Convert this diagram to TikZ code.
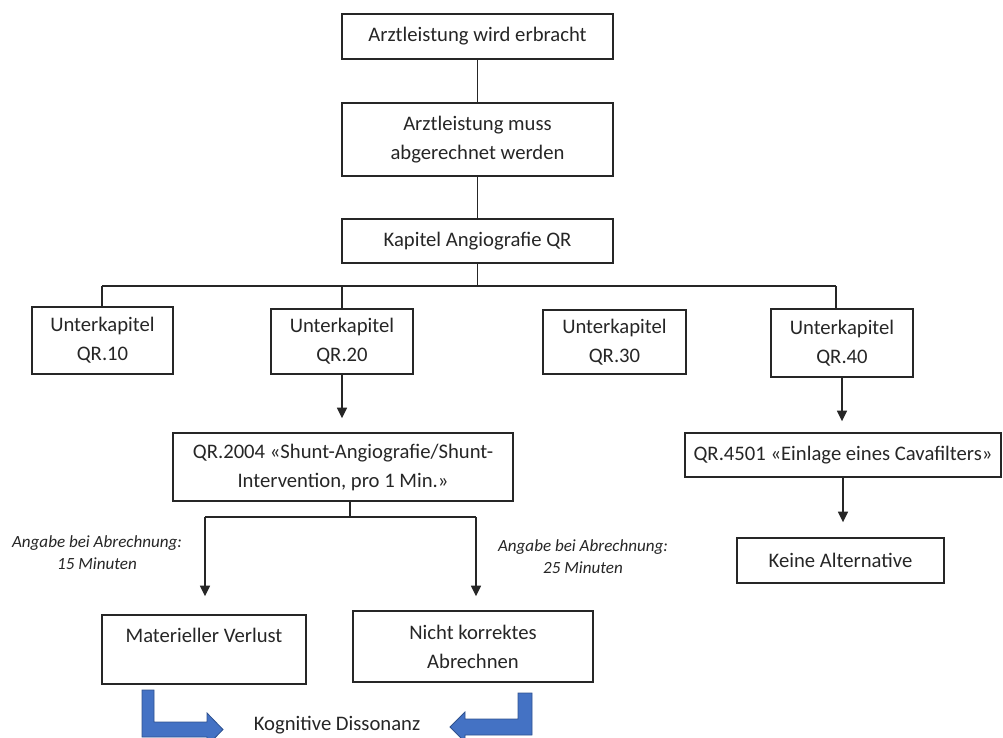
\documentclass[tikz,border=0pt]{standalone}
\usepackage{fontspec}
\setmainfont{Carlito}
\usetikzlibrary{arrows.meta}
\definecolor{ink}{HTML}{262626}
\definecolor{bluefill}{HTML}{4472C4}
\definecolor{blueline}{HTML}{2F528F}
\begin{document}
\begin{tikzpicture}[x=0.75pt,y=-0.75pt,
  bw/.style={minimum width=#1*0.75pt},
  bh/.style={minimum height=#1*0.75pt},
  box/.style={draw=ink, line width=1.05pt, rectangle, inner sep=0pt, align=center,
    font=\fontsize{15.5}{21.75}\selectfont, text=ink},
  lbl/.style={inner sep=0pt, align=center, text=ink, font=\itshape\fontsize{12.8}{16.5}\selectfont},
  txt/.style={inner sep=0pt, text=ink, font=\fontsize{15.5}{21.75}\selectfont},
  ln/.style={draw=ink, line width=1.05pt},
  arr/.style={ln, -{Triangle[length=8pt,width=7.5pt]}},
  blk/.style={fill=bluefill, draw=blueline, line width=0.6pt, line join=miter}]
\useasboundingbox (0,0) rectangle (1003,738);

\node[box,bw=271,bh=45] (b1) at (477.5,36.5) {Arztleistung wird erbracht};
\node[box,bw=271,bh=73] (b2) at (477.5,139.5) {Arztleistung muss\\abgerechnet werden};
\node[box,bw=271,bh=44] (b3) at (477.5,241) {Kapitel Angiografie QR};
\node[box,bw=141,bh=67] (q10) at (102.5,340.5) {Unterkapitel\\QR.10};
\node[box,bw=142,bh=65] (q20) at (342,341.5) {Unterkapitel\\QR.20};
\node[box,bw=143,bh=64] (q30) at (614.5,342) {Unterkapitel\\QR.30};
\node[box,bw=142,bh=68] (q40) at (842,343) {Unterkapitel\\QR.40};
\node[box,bw=340,bh=68] (q2004) at (343,467) {QR.2004 «Shunt-Angiografie/Shunt-\\Intervention, pro 1 Min.»};
\node[box,bw=316,bh=44] (q4501) at (843,455) {QR.4501 «Einlage eines Cavafilters»};
\node[box,bw=207,bh=45] (ka) at (840.5,560.5) {Keine Alternative};
\node[box,bw=204,bh=69] (mv) at (204,649.5) {Materieller Verlust\\\mbox{}};
\node[box,bw=240,bh=71] (nk) at (473,646.5) {Nicht korrektes\\Abrechnen};
\node[lbl] (la) at (97,553) {Angabe bei Abrechnung:\\15 Minuten};
\node[lbl] (lb) at (583,557) {Angabe bei Abrechnung:\\25 Minuten};
\node[txt] (kd) at (337,725) {Kognitive Dissonanz};

\coordinate (busL) at (102,286);
\coordinate (busR) at (836,286);
\coordinate (spC) at (350,517);
\coordinate (spL) at (205,517);
\coordinate (spR) at (476,517);

\draw[ln] (b1) -- (b2);
\draw[ln] (b2) -- (b3);
\draw[ln] (b3.south) -- (b3.south |- busL);
\draw[ln] (busL) -- (busR);
\draw[ln] (busL) -- (busL |- q10.north);
\draw[ln] (q20.north |- busL) -- (q20.north);
\draw[ln] (busR) -- (busR |- q40.north);
\draw[arr, shorten >=10.5pt] (q20.south) -- (q20.south |- q2004.north);
\draw[ln] (spC |- q2004.south) -- (spC);
\draw[ln] (spL) -- (spR);
\draw[arr, shorten >=13.5pt] (spL) -- (spL |- mv.north);
\draw[arr, shorten >=10.5pt] (spR) -- (spR |- nk.north);
\draw[arr, shorten >=8.25pt] (q40.south) -- (q40.south |- q4501.north);
\draw[arr, shorten >=11.25pt] (q4501.south) -- (q4501.south |- ka.north);

% blue bent arrows
\path[blk] (142,690) -- (154,690) -- (154,722) -- (207,722) -- (207,713) -- (223,729.5)
  -- (207,746) -- (207,737) -- (142,737) -- cycle;
\path[blk] (532,693) -- (518,693) -- (518,719) -- (465,719) -- (465,712) -- (450,727)
  -- (465,742) -- (465,735) -- (532,735) -- cycle;
\end{tikzpicture}
\end{document}
